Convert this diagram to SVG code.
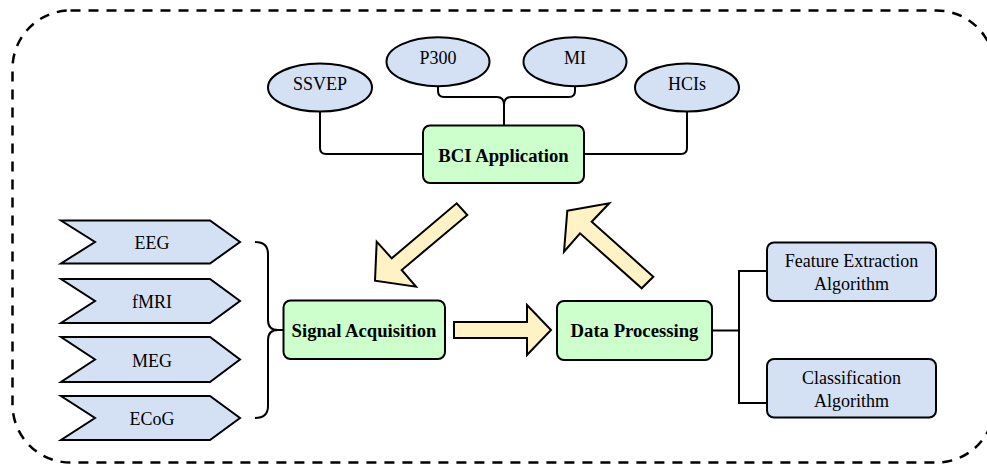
<svg xmlns="http://www.w3.org/2000/svg" width="987" height="465" viewBox="0 0 987 465">
<style>
.frame{fill:none;stroke:#000;stroke-width:2.5;stroke-dasharray:10 8}
.ell{fill:#D4E1F5;stroke:#000;stroke-width:2}
.chev{fill:#D4E1F5;stroke:#000;stroke-width:2;stroke-linejoin:miter}
.green{fill:#CCFFCC;stroke:#000;stroke-width:2}
.blue{fill:#D4E1F5;stroke:#000;stroke-width:2}
.fat{fill:#FFF2C4;stroke:#000;stroke-width:2;stroke-linejoin:miter}
.conn{fill:none;stroke:#000;stroke-width:2}
text{font-family:"Liberation Serif","Times New Roman",serif;fill:#000;text-anchor:middle}
.t{font-size:18px}
.b{font-size:18.7px;font-weight:bold}
</style>
<rect class="frame" x="12.5" y="10.5" width="982" height="452" rx="58" ry="58"/>
<g id="connectors">
<path class="conn" d="M320,112 V148 Q320,154 326,154 H423"/>
<path class="conn" d="M687,112 V148 Q687,154 681,154 H584"/>
<path class="conn" d="M438,86 V91 Q438,97 444,97 H497 Q504,97 504,105 V125"/>
<path class="conn" d="M575,86 V91 Q575,97 569,97 H511 Q504,97 504,105"/>
<path class="conn" d="M255,242 Q268,242 268,254 V320 Q268,330 278,330 H283 M278,330 Q268,330 268,340 V406 Q268,418 255,418"/>
<path class="conn" d="M712,330.5 H739 M767,271 H739 V403 H767"/>
</g>
<g id="arrow-down-left"><polygon class="fat" points="456.7,203.3 467.3,215 401.7,270 416,286.7 375,280.7 376.7,241.7 391.7,258.3"/></g>
<g id="arrow-up-left"><polygon class="fat" points="567.3,210.7 609.3,203.3 591.7,221.7 653.3,276.7 641.7,288.3 580,233.3 564,251.7"/></g>
<g id="arrow-right"><polygon class="fat" points="454,322 527,322 527,305 551,330 527,355 527,338 454,338"/></g>
<g id="ssvep"><ellipse class="ell" cx="320" cy="87.5" rx="52" ry="24"/><text class="t" x="320" y="89.5">SSVEP</text></g>
<g id="p300"><ellipse class="ell" cx="438" cy="61.7" rx="51.5" ry="24.5"/><text class="t" x="438" y="63.7">P300</text></g>
<g id="mi"><ellipse class="ell" cx="575" cy="61.7" rx="51.5" ry="24.5"/><text class="t" x="575" y="63.7">MI</text></g>
<g id="hcis"><ellipse class="ell" cx="687" cy="87.5" rx="52" ry="24"/><text class="t" x="687" y="89.5">HCIs</text></g>
<g id="bci-application"><rect class="green" x="423" y="125.5" width="161" height="57.5" rx="7"/><text class="b" x="503.5" y="161.5">BCI Application</text></g>
<g id="eeg"><polygon class="chev" points="61,220.5 210,220.5 240,242 210,263.5 61,263.5 95,242"/><text class="t" x="152" y="249">EEG</text></g>
<g id="fmri"><polygon class="chev" points="61,279 210,279 240,301 210,323 61,323 95,301"/><text class="t" x="152" y="308">fMRI</text></g>
<g id="meg"><polygon class="chev" points="61,337 210,337 240,359.5 210,382 61,382 95,359.5"/><text class="t" x="152" y="366.5">MEG</text></g>
<g id="ecog"><polygon class="chev" points="61,396 210,396 240,418 210,440 61,440 95,418"/><text class="t" x="152" y="425">ECoG</text></g>
<g id="signal-acquisition"><rect class="green" x="283.5" y="300.5" width="161.5" height="58.5" rx="7"/><text class="b" x="364" y="337">Signal Acquisition</text></g>
<g id="data-processing"><rect class="green" x="557" y="301" width="155" height="59" rx="7"/><text class="b" x="634.5" y="336.5">Data Processing</text></g>
<g id="feature-extraction"><rect class="blue" x="767" y="242.5" width="169" height="58.5" rx="7"/><text class="t" x="851.5" y="267">Feature Extraction</text><text class="t" x="851.5" y="290">Algorithm</text></g>
<g id="classification"><rect class="blue" x="767" y="359" width="169" height="58.5" rx="7"/><text class="t" x="851.5" y="383.5">Classification</text><text class="t" x="851.5" y="406.5">Algorithm</text></g>
</svg>
